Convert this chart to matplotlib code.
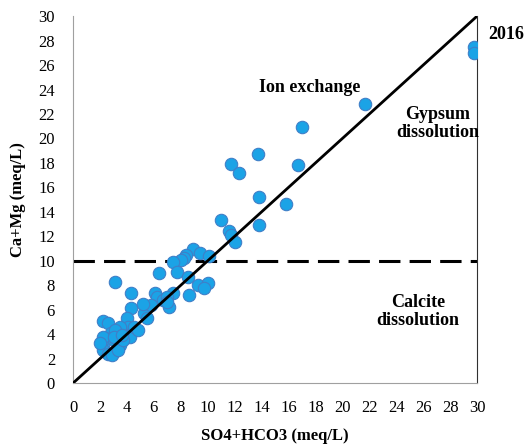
import matplotlib
matplotlib.use("Agg")
from matplotlib import pyplot as plt

plt.rcParams['font.family'] = ['Liberation Serif', 'DejaVu Serif']

# SO4+HCO3 vs Ca+Mg (meq/L), 2016 samples
so4_hco3 = [29.8, 29.8,
            21.7, 17.0, 13.7, 11.7, 12.3, 16.7, 13.8, 15.8, 11.0, 11.6, 11.7, 13.8, 12.0,
            8.9, 9.4, 8.4, 10.1, 8.2, 8.0, 7.4,
            6.4, 7.7, 8.5, 9.3, 10.0, 9.7, 8.6,
            3.1, 4.3, 4.3,
            7.4, 6.1, 6.2, 6.7, 7.1, 7.0, 7.0,
            5.3, 5.8, 5.5, 5.2,
            4.0, 4.1, 4.2, 4.5, 4.8,
            2.2, 2.6, 2.2, 2.2, 2.6, 3.0, 3.5, 2.8, 3.3, 3.6, 2.4, 3.0, 3.5, 3.1,
            2.2, 2.0, 2.9, 3.3, 3.7, 3.0, 3.6]
ca_mg = [27.5, 27.0,
         22.8, 20.9, 18.7, 17.9, 17.2, 17.8, 15.2, 14.6, 13.3, 12.4, 12.1, 12.9, 11.5,
         11.0, 10.6, 10.5, 10.4, 10.2, 10.1, 9.9,
         9.0, 9.1, 8.7, 8.0, 8.2, 7.8, 7.2,
         8.3, 7.4, 6.1,
         7.4, 7.4, 7.0, 6.8, 6.2, 7.0, 6.6,
         5.7, 6.4, 5.3, 6.5,
         5.3, 4.6, 3.8, 4.6, 4.3,
         5.1, 4.9, 3.1, 2.7, 2.4, 2.5, 3.1, 4.1, 4.2, 4.1, 3.7, 3.5, 4.6, 4.3,
         3.8, 3.3, 2.3, 2.7, 3.5, 3.8, 3.9]
ticks = list(range(0, 31, 2))

fig = plt.figure(figsize=(5.26, 4.48), dpi=100)
ax = fig.add_axes([0.139, 0.145, 0.768, 0.819])

ax.scatter(so4_hco3, ca_mg, s=80, color='#1ba3e6', edgecolors='#3f7fc8',
           linewidths=0.8, zorder=3)
ax.plot([0, 30], [0, 30], color='black', lw=2, zorder=4)
ax.axhline(10, color='black', lw=2.2, dashes=(7, 3), zorder=2)

ax.set_xlim(0, 30)
ax.set_ylim(0, 30)
ax.set_xticks(ticks)
ax.set_yticks(ticks)
ax.tick_params(axis='x', length=0, labelsize=12, pad=12)
ax.tick_params(axis='y', length=0, labelsize=12, pad=13)

ax.spines['top'].set_visible(False)
ax.spines['left'].set_color('#a0a0a0')
ax.spines['bottom'].set_color('#a0a0a0')
ax.spines['right'].set_color('#303030')

ax.set_xlabel('SO4+HCO3 (meq/L)', fontsize=12, fontweight='bold', labelpad=9)
ax.set_ylabel('Ca+Mg (meq/L)', fontsize=12, fontweight='bold', labelpad=9)

ax.text(17.6, 24.2, 'Ion exchange', fontsize=13, fontweight='bold',
        ha='center', va='center')
ax.text(27.1, 21.2, 'Gypsum\ndissolution', fontsize=13, fontweight='bold',
        ha='center', va='center', linespacing=1.1)
ax.text(25.6, 5.85, 'Calcite\ndissolution', fontsize=13, fontweight='bold',
        ha='center', va='center', linespacing=1.1)
fig.text(0.962, 0.922, '2016', fontsize=13, fontweight='bold',
         ha='center', va='center')

plt.savefig('out.png', dpi=100)
